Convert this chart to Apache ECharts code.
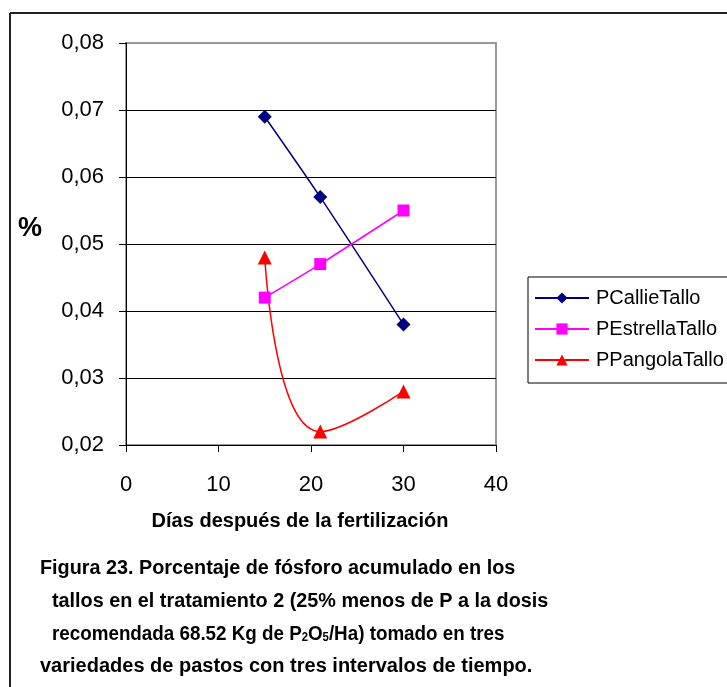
<!DOCTYPE html>
<html><head><meta charset="utf-8">
<script src="https://cdn.jsdelivr.net/npm/echarts@6/dist/echarts.min.js"></script>
<style>html,body{margin:0;padding:0;background:#fff}#c{width:727px;height:687px}</style>
</head><body><div id="c"></div>
<script>
var xDays = [15, 21, 30];
var callie = [0.069, 0.057, 0.038];
var estrella = [0.042, 0.047, 0.055];
var pangola = [0.048, 0.022, 0.028];
var seriesNames = ['PCallieTallo', 'PEstrellaTallo', 'PPangolaTallo'];
var yTicks = ['0,02','0,03','0,04','0,05','0,06','0,07','0,08'];
var captionLines = [
  'Figura 23. Porcentaje de fósforo acumulado en los',
  'tallos en el tratamiento 2 (25% menos de P a la dosis',
  'recomendada 68.52 Kg de P{s|2}O{s|5}/Ha) tomado en tres',
  'variedades de pastos con tres intervalos de tiempo.'
];
function pairs(ys){ return xDays.map(function(x,i){ return [x, ys[i]]; }); }
var chart = echarts.init(document.getElementById('c'), null, {renderer:'canvas'});
var F = 'Liberation Sans, Arial, sans-serif';
var capX = [40, 52, 52, 40], capY = [568, 601, 634, 666], capSX = [0.99, 0.99, 0.94, 1.0];
var graphics = [
  {type:'line', shape:{x1:10,y1:13,x2:727,y2:13}, style:{stroke:'#222', lineWidth:2}},
  {type:'line', shape:{x1:10,y1:13,x2:10,y2:687}, style:{stroke:'#222', lineWidth:2}},
  {type:'text', x:30, y:229, style:{text:'%', font:'bold 27px '+F, fill:'#000', align:'center', verticalAlign:'middle'}},
  {type:'text', x:300, y:521, style:{text:'Días después de la fertilización', font:'bold 20px '+F, fill:'#000', align:'center', verticalAlign:'middle'}}
];
captionLines.forEach(function(t,i){
  graphics.push({type:'text', x:capX[i], y:capY[i], scaleX:capSX[i], style:{text:t, font:'bold 20px '+F, fill:'#000', align:'left', verticalAlign:'middle',
    rich:{s:{fontSize:12, fontWeight:'bold', fontFamily:F, verticalAlign:'bottom', padding:[7,0,0,0]}}}});
});
chart.setOption({
  animation:false,
  grid:{left:126, top:43, width:370, height:402, show:true, borderColor:'#999', borderWidth:2, backgroundColor:'transparent'},
  legend:{
    orient:'vertical', left:528, top:277, itemWidth:54, itemHeight:14, itemGap:11,
    padding:[11,8,13,6], borderColor:'#000', borderWidth:1,
    textStyle:{fontSize:20, fontFamily:F, color:'#000', padding:[0,0,0,2]},
    data:seriesNames
  },
  xAxis:{type:'value', min:0, max:40, interval:10,
    axisLine:{show:true, lineStyle:{color:'#000', width:1}},
    axisTick:{show:true, length:7, lineStyle:{color:'#000'}},
    axisLabel:{fontSize:22, fontFamily:F, color:'#000', margin:29},
    splitLine:{show:false}},
  yAxis:{type:'value', min:0.02, max:0.08, interval:0.01,
    axisLine:{show:true, lineStyle:{color:'#000', width:1}},
    axisTick:{show:true, length:7, lineStyle:{color:'#000'}},
    axisLabel:{fontSize:22, fontFamily:F, color:'#000', margin:22,
      formatter:function(v){ var i=Math.round((v-0.02)/0.01); return yTicks[i]; }},
    splitLine:{show:true, lineStyle:{color:['#000','#000','#000','#000','#000','#000','#999'], width:1}}},
  series:[
    {name:seriesNames[0], type:'line', data:pairs(callie), smooth:0.3, symbol:'diamond', symbolSize:14,
      itemStyle:{color:'#000080'}, lineStyle:{color:'#000080', width:1.5}},
    {name:seriesNames[1], type:'line', data:pairs(estrella), smooth:0.3, symbol:'rect', symbolSize:12,
      itemStyle:{color:'#FF00FF'}, lineStyle:{color:'#FF00FF', width:1.5}},
    {name:seriesNames[2], type:'line', data:pairs(pangola), smooth:0.5, symbol:'triangle', symbolSize:14,
      itemStyle:{color:'#FF0000'}, lineStyle:{color:'#FF0000', width:1.5}}
  ],
  graphic:graphics
});
</script></body></html>
